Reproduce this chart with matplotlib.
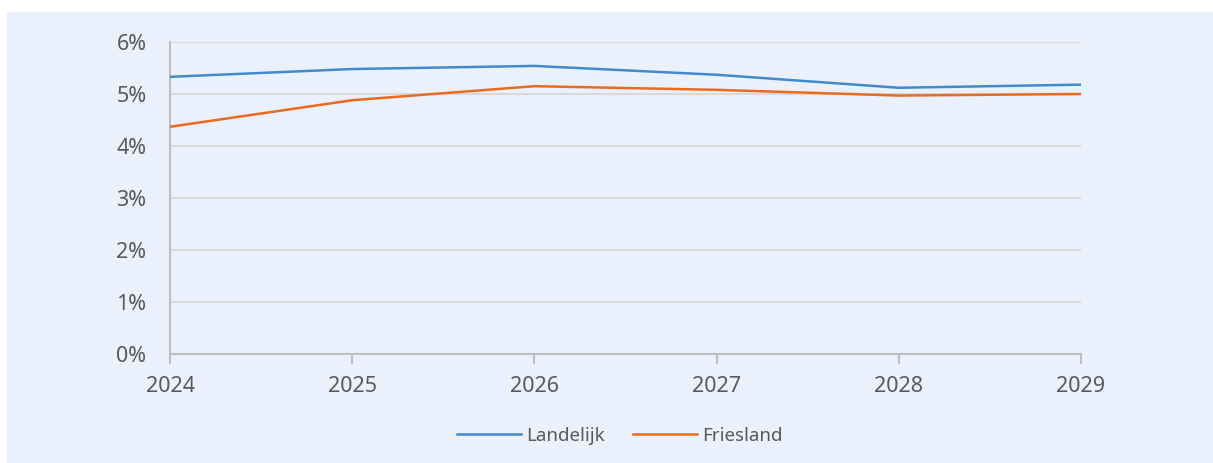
import matplotlib.pyplot as plt
import matplotlib.ticker as ticker
from matplotlib.patches import Rectangle

# data
years = [2024, 2025, 2026, 2027, 2028, 2029]
landelijk = [5.33, 5.48, 5.54, 5.37, 5.12, 5.18]
friesland = [4.37, 4.88, 5.15, 5.08, 4.97, 5.00]
y_ticks = [0, 1, 2, 3, 4, 5, 6]

BG = "#eaf1fd"
BLUE = "#4389d0"
ORANGE = "#ec6a1e"
GRID = "#d9d9d9"
AXIS = "#bfbfbf"
TEXT = "#595959"

plt.rcParams.update({
    "font.family": ["Noto Sans", "DejaVu Sans"],
})

fig = plt.figure(figsize=(12.13, 4.63), dpi=100)
fig.patch.set_facecolor("white")
fig.patches.append(Rectangle((7 / 1213, 0), 1, (463 - 12) / 463,
                             transform=fig.transFigure, facecolor=BG,
                             edgecolor="none", zorder=-5))

ax = fig.add_axes([170 / 1213, 1 - 354 / 463, (1081 - 170) / 1213, (354 - 42) / 463])
ax.set_zorder(2)
ax.set_facecolor("none")

ax.plot(years, landelijk, color=BLUE, linewidth=1.8, label="Landelijk", zorder=3)
ax.plot(years, friesland, color=ORANGE, linewidth=1.8, label="Friesland", zorder=3)

ax.set_xlim(years[0], years[-1])
ax.set_ylim(0, 6)
ax.set_xticks(years)
ax.set_yticks(y_ticks)
ax.yaxis.set_major_formatter(ticker.FuncFormatter(lambda v, _: f"{int(v)}%"))
ax.grid(axis="y", color=GRID, linewidth=1.5, zorder=1)
ax.set_axisbelow(True)

for s in ["top", "right"]:
    ax.spines[s].set_visible(False)
for s in ["left", "bottom"]:
    ax.spines[s].set_color(AXIS)
    ax.spines[s].set_linewidth(1.5)

ax.tick_params(axis="x", length=7, width=1.5, color=AXIS, pad=9,
               labelsize=15.5, labelcolor=TEXT)
ax.tick_params(axis="y", length=0, pad=17, labelsize=15.5, labelcolor=TEXT)

fig.legend(loc="center", bbox_to_anchor=(0.511, 1 - 436 / 463), ncol=2,
           frameon=False, fontsize=13.5, labelcolor=TEXT,
           handlelength=3.4, handletextpad=0.3, columnspacing=1.5)

fig.savefig("out.png", dpi=100)
plt.close(fig)
